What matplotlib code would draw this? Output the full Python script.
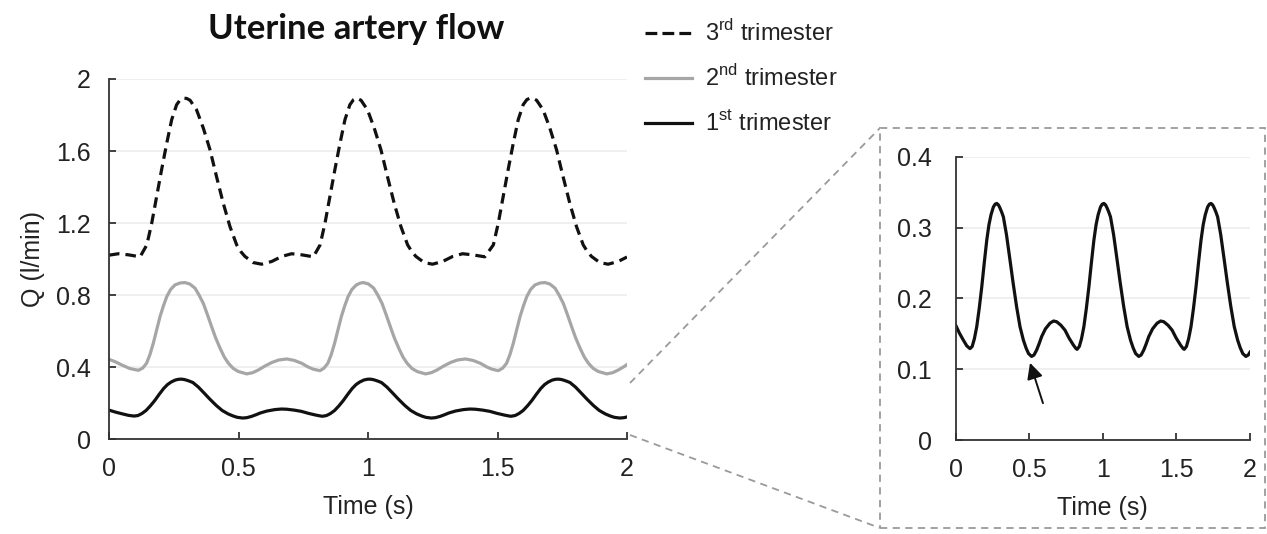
import matplotlib
matplotlib.use("Agg")
import matplotlib.pyplot as plt
from matplotlib.lines import Line2D
from matplotlib.patches import Rectangle

# ---------------- data ----------------
# 3rd trimester
t3 = [0.00, 0.036, 0.075, 0.12, 0.146, 0.165, 0.184, 0.203, 0.223, 0.242, 0.261, 0.275,
      0.287, 0.30, 0.313, 0.338, 0.364, 0.39, 0.415, 0.441, 0.467, 0.493, 0.51, 0.525,
      0.557, 0.589, 0.628, 0.667, 0.705, 0.744, 0.789,
      0.815, 0.834, 0.853, 0.872, 0.892, 0.911, 0.930, 0.944, 0.956, 0.973, 0.998, 1.024,
      1.05, 1.075, 1.101, 1.127, 1.153, 1.17, 1.185, 1.217, 1.249, 1.288, 1.327, 1.365,
      1.404, 1.451,
      1.484, 1.503, 1.522, 1.541, 1.561, 1.580, 1.599, 1.613, 1.625, 1.638, 1.651, 1.676,
      1.702, 1.728, 1.753, 1.779, 1.805, 1.831, 1.848, 1.863, 1.895, 1.927, 1.966, 2.00]
q3 = [1.022, 1.03, 1.024, 1.013, 1.079, 1.20, 1.348, 1.496, 1.644, 1.774, 1.857, 1.885,
      1.894, 1.892, 1.882, 1.829, 1.728, 1.607, 1.459, 1.311, 1.181, 1.079, 1.04, 1.015,
      0.981, 0.972, 0.987, 1.015, 1.03, 1.024, 1.013,
      1.079, 1.20, 1.348, 1.496, 1.644, 1.774, 1.857, 1.885, 1.894, 1.882, 1.829, 1.728,
      1.607, 1.459, 1.311, 1.181, 1.079, 1.04, 1.015, 0.981, 0.972, 0.987, 1.015, 1.03,
      1.024, 1.013,
      1.079, 1.20, 1.348, 1.496, 1.644, 1.774, 1.857, 1.885, 1.894, 1.892, 1.882, 1.829,
      1.728, 1.607, 1.459, 1.311, 1.181, 1.079, 1.04, 1.015, 0.981, 0.972, 0.987, 1.012]

# 2nd trimester
t2 = [0.00, 0.025, 0.049, 0.08, 0.113, 0.13, 0.145, 0.158, 0.171, 0.184, 0.197, 0.21,
      0.223, 0.238, 0.255, 0.275, 0.293, 0.312, 0.332, 0.348, 0.364, 0.38, 0.396, 0.412,
      0.429, 0.445, 0.461, 0.48, 0.50, 0.532, 0.555, 0.577, 0.60, 0.628, 0.655, 0.686,
      0.715, 0.744, 0.768, 0.789, 0.815,
      0.83, 0.845, 0.858, 0.871, 0.884, 0.897, 0.91, 0.923, 0.938, 0.955, 0.97, 0.983,
      1.002, 1.022, 1.038, 1.054, 1.07, 1.086, 1.102, 1.119, 1.135, 1.151, 1.17, 1.19,
      1.222, 1.245, 1.267, 1.29, 1.318, 1.345, 1.376, 1.405, 1.434, 1.458, 1.479, 1.503,
      1.52, 1.535, 1.548, 1.561, 1.574, 1.587, 1.60, 1.613, 1.628, 1.645, 1.665, 1.683,
      1.702, 1.722, 1.738, 1.754, 1.77, 1.786, 1.802, 1.819, 1.835, 1.851, 1.87, 1.89,
      1.922, 1.945, 1.967, 1.99, 2.00]
q2 = [0.444, 0.43, 0.413, 0.393, 0.383, 0.395, 0.422, 0.47, 0.533, 0.607, 0.681, 0.74,
      0.792, 0.832, 0.857, 0.868, 0.870, 0.862, 0.839, 0.80, 0.755, 0.692, 0.626, 0.562,
      0.505, 0.457, 0.422, 0.393, 0.376, 0.363, 0.37, 0.385, 0.405, 0.426, 0.440, 0.446,
      0.438, 0.422, 0.402, 0.389, 0.381,
      0.395, 0.422, 0.47, 0.533, 0.607, 0.681, 0.74, 0.792, 0.832, 0.857, 0.867, 0.870,
      0.862, 0.839, 0.80, 0.755, 0.692, 0.626, 0.562, 0.505, 0.457, 0.422, 0.393, 0.376,
      0.363, 0.37, 0.385, 0.405, 0.426, 0.440, 0.446, 0.438, 0.422, 0.402, 0.389, 0.381,
      0.395, 0.422, 0.47, 0.533, 0.607, 0.681, 0.74, 0.792, 0.832, 0.857, 0.868, 0.870,
      0.862, 0.839, 0.80, 0.755, 0.692, 0.626, 0.562, 0.505, 0.457, 0.422, 0.393, 0.376,
      0.363, 0.37, 0.385, 0.405, 0.415]

# 1st trimester (also shown enlarged in the inset)
t1 = [0.00, 0.025, 0.052, 0.075, 0.097, 0.112, 0.127, 0.143, 0.16, 0.177, 0.194, 0.211,
      0.226, 0.24, 0.256, 0.268, 0.279, 0.29, 0.30, 0.312, 0.324, 0.345, 0.369, 0.39,
      0.414, 0.437, 0.46, 0.478, 0.495, 0.516, 0.532, 0.55, 0.567, 0.584, 0.61, 0.641,
      0.665, 0.686, 0.715, 0.743, 0.77, 0.80, 0.818,
      0.825, 0.840, 0.855, 0.871, 0.888, 0.905, 0.922, 0.939, 0.954, 0.968, 0.984, 0.996,
      1.007, 1.018, 1.028, 1.040, 1.052, 1.073, 1.097, 1.118, 1.142, 1.165, 1.188, 1.206,
      1.223, 1.244, 1.260, 1.278, 1.295, 1.312, 1.338, 1.369, 1.393, 1.414, 1.443, 1.471,
      1.498, 1.528, 1.546,
      1.553, 1.568, 1.583, 1.599, 1.616, 1.633, 1.65, 1.667, 1.682, 1.696, 1.712, 1.724,
      1.735, 1.746, 1.756, 1.768, 1.78, 1.801, 1.825, 1.846, 1.87, 1.893, 1.916, 1.934,
      1.951, 1.972, 1.988, 2.00]
q1 = [0.162, 0.151, 0.141, 0.133, 0.129, 0.132, 0.143, 0.16, 0.186, 0.216, 0.25, 0.282,
      0.304, 0.318, 0.329, 0.333, 0.334, 0.332, 0.328, 0.322, 0.315, 0.29, 0.254, 0.222,
      0.188, 0.16, 0.141, 0.13, 0.122, 0.118, 0.12, 0.127, 0.136, 0.146, 0.157, 0.165,
      0.168, 0.167, 0.162, 0.155, 0.144, 0.134, 0.129,
      0.128, 0.132, 0.143, 0.16, 0.186, 0.216, 0.25, 0.282, 0.304, 0.318, 0.329, 0.333,
      0.334, 0.332, 0.328, 0.322, 0.315, 0.29, 0.254, 0.222, 0.188, 0.16, 0.141, 0.13,
      0.122, 0.118, 0.12, 0.127, 0.136, 0.146, 0.157, 0.165, 0.168, 0.167, 0.162, 0.155,
      0.144, 0.134, 0.129,
      0.128, 0.132, 0.143, 0.16, 0.186, 0.216, 0.25, 0.282, 0.304, 0.318, 0.329, 0.333,
      0.334, 0.332, 0.328, 0.322, 0.315, 0.29, 0.254, 0.222, 0.188, 0.16, 0.141, 0.13,
      0.122, 0.118, 0.12, 0.124]

labels = [r"3$^{\mathregular{rd}}$ trimester",
          r"2$^{\mathregular{nd}}$ trimester",
          r"1$^{\mathregular{st}}$ trimester"]

main_xticks = [0, 0.5, 1, 1.5, 2]
main_yticks = [0, 0.4, 0.8, 1.2, 1.6, 2]
inset_yticks = [0, 0.1, 0.2, 0.3, 0.4]

title = "Uterine artery flow"
xlabel = "Time (s)"
ylabel = "Q (l/min)"

# ---------------- style ----------------
plt.rcParams['font.family'] = ['Liberation Sans', 'DejaVu Sans']
plt.rcParams['mathtext.fontset'] = 'custom'
plt.rcParams['mathtext.rm'] = 'Liberation Sans'

W, H = 1267, 534
fig = plt.figure(figsize=(W / 100, H / 100), dpi=100)

BLACK = '#111111'
GRAY = '#a6a6a6'
GRID = '#ececec'
SPINE = '#333333'
FS = 18
LW = 2.3


def fx(px):
    return px / W


def fy(py):
    return 1 - py / H


def style_axes(ax, ypad):
    for s in ('top', 'right'):
        ax.spines[s].set_visible(False)
    for s in ('left', 'bottom'):
        ax.spines[s].set_color(SPINE)
        ax.spines[s].set_linewidth(1.3)
    ax.tick_params(axis='both', direction='in', length=5, width=1.3, color=SPINE,
                   labelsize=FS, labelcolor='#222222')
    ax.tick_params(axis='y', pad=ypad)
    ax.tick_params(axis='x', pad=13)
    ax.yaxis.grid(True, color=GRID, lw=1.2)
    ax.set_axisbelow(True)


# main axes
ax = fig.add_axes([fx(109), fy(439.3), fx(627) - fx(109), fy(79) - fy(439.3)])
l3, = ax.plot(t3, q3, color=BLACK, lw=LW, ls=(0, (3.3, 1.9)), solid_joinstyle='round')
l2, = ax.plot(t2, q2, color=GRAY, lw=LW, solid_joinstyle='round')
l1, = ax.plot(t1, q1, color=BLACK, lw=LW, solid_joinstyle='round')
ax.set_xlim(0, 2)
ax.set_ylim(0, 2)
ax.set_xticks(main_xticks)
ax.set_xticklabels([f"{v:g}" for v in main_xticks])
ax.set_yticks(main_yticks)
ax.set_yticklabels([f"{v:g}" for v in main_yticks])
style_axes(ax, 13)
ax.set_xlabel(xlabel, fontsize=FS, labelpad=10, color='#222222')
ax.set_ylabel(ylabel, fontsize=FS, labelpad=8, color='#222222')

fig.text(fx(356), fy(29), title, ha='center', va='center', fontsize=25,
         fontweight='bold', family=['Lato', 'DejaVu Sans'], color='#111111')

# legend (manual)
leg_rows = [33.3, 78, 122.7]
for line, lab, yy in zip([l3, l2, l1], labels, leg_rows):
    fig.add_artist(Line2D([fx(645), fx(692)], [fy(yy), fy(yy)], color=line.get_color(),
                          lw=LW, ls=line.get_linestyle()))
    fig.text(fx(705), fy(yy), lab, ha='left', va='center', fontsize=17, color='#222222')

# inset axes
axi = fig.add_axes([fx(955.7), fy(440), fx(1250) - fx(955.7), fy(156.7) - fy(440)])
axi.plot(t1, q1, color=BLACK, lw=LW, solid_joinstyle='round')
axi.set_xlim(0, 2)
axi.set_ylim(0, 0.4)
axi.set_xticks(main_xticks)
axi.set_xticklabels([f"{v:g}" for v in main_xticks])
axi.set_yticks(inset_yticks)
axi.set_yticklabels([f"{v:g}" for v in inset_yticks])
style_axes(axi, 17)
axi.set_xlabel(xlabel, fontsize=FS, labelpad=10, color='#222222')
axi.annotate('', xy=(0.505, 0.109), xytext=(0.593, 0.052),
             arrowprops=dict(arrowstyle='-|>', color=BLACK, lw=1.4, mutation_scale=24,
                             shrinkA=0, shrinkB=0))

# dashed zoom box + connectors
BOX = '#9a9a9a'
fig.add_artist(Rectangle((fx(880), fy(528)), fx(1265) - fx(880), fy(128) - fy(528),
                         fill=False, ec=BOX, lw=1.3, ls=(0, (4, 3))))
fig.add_artist(Line2D([fx(630), fx(880)], [fy(383), fy(128)], color=BOX, lw=1.3,
                      ls=(0, (4, 3))))
fig.add_artist(Line2D([fx(630), fx(880)], [fy(435), fy(528)], color=BOX, lw=1.3,
                      ls=(0, (4, 3))))

fig.savefig("out.png", dpi=100, facecolor='white')
